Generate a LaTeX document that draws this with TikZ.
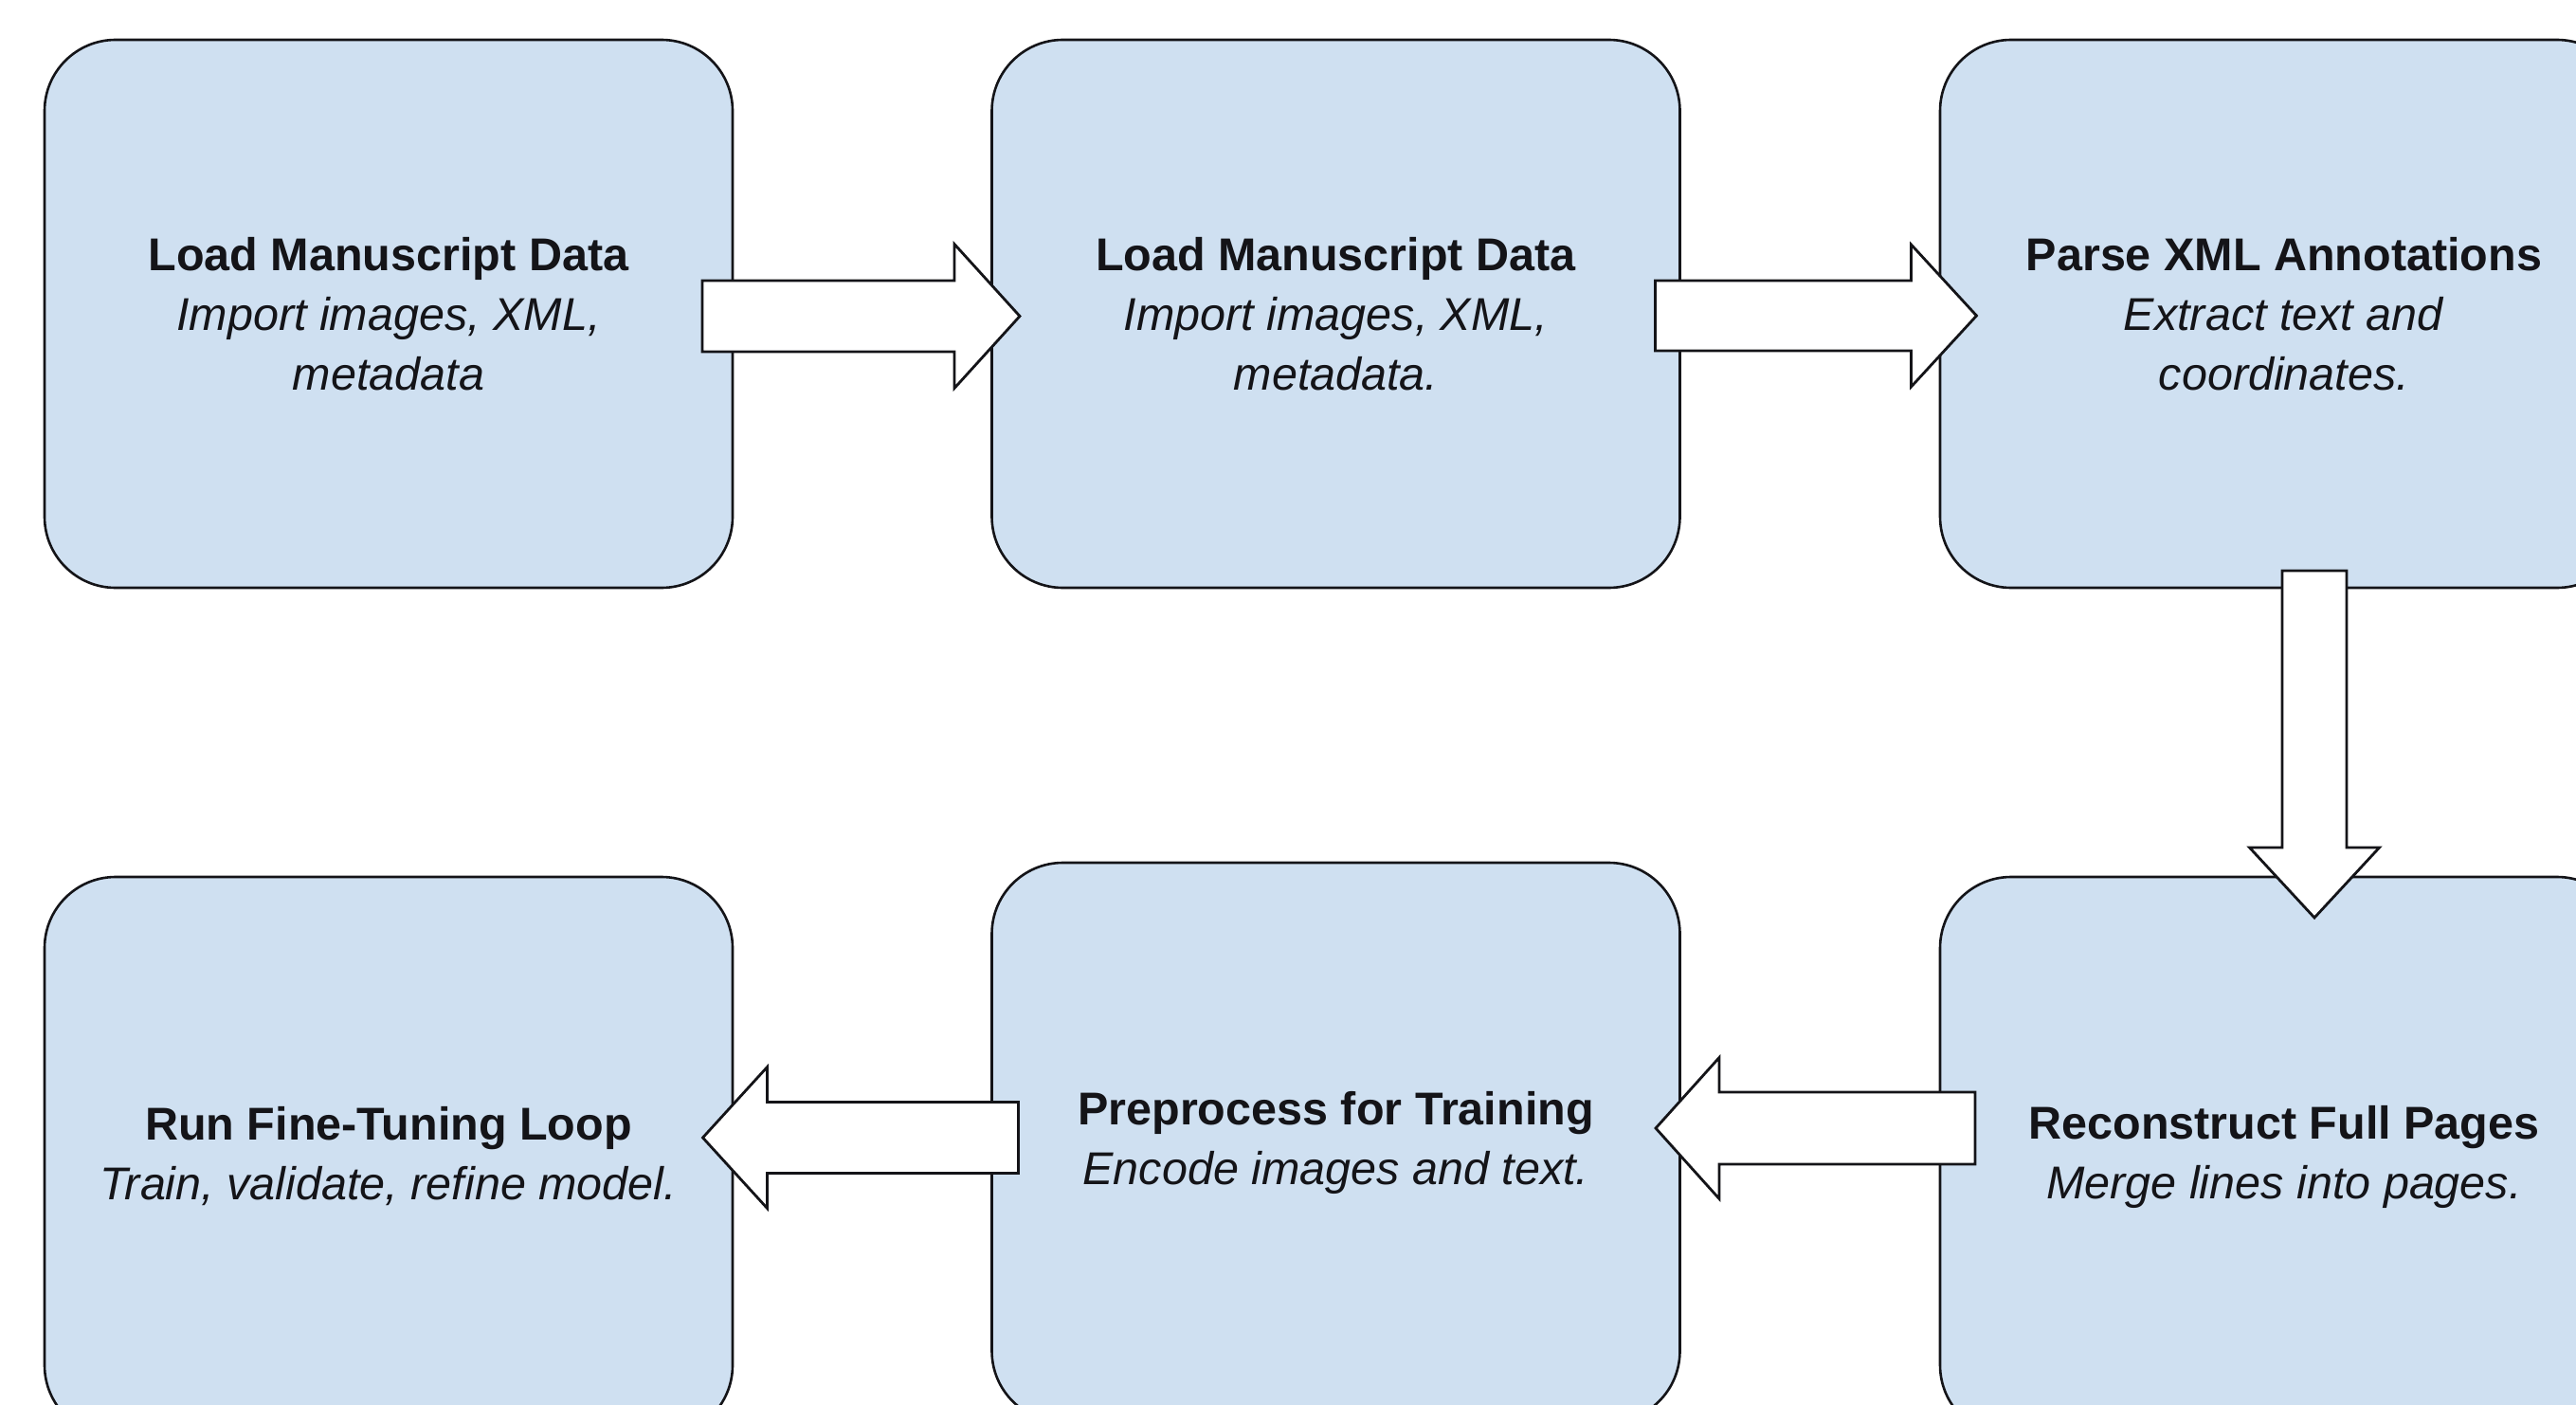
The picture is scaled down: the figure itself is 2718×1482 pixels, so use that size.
\documentclass[tikz,border=0pt]{standalone}
\usepackage{fontspec}
\setmainfont{Liberation Sans}
\usetikzlibrary{calc}
\definecolor{boxfill}{RGB}{207,224,241}
\definecolor{ink}{RGB}{20,20,24}

\begin{document}
\begin{tikzpicture}[x=1pt,y=-1pt,
  stage/.style={draw=ink, line width=2.6pt, fill=boxfill,
    rounded corners=75pt, minimum width=726pt, minimum height=578pt,
    inner sep=0pt, outer sep=0pt, align=center, text=ink,
    font=\fontsize{48.5}{63}\selectfont},
  lowstage/.style={stage, minimum height=590pt},
  blockarrow/.style={draw=ink, line width=2.8pt, fill=white, line join=miter}]

  % page frame
  \useasboundingbox (0,0) rectangle (2718,1482);
  \clip (0,0) rectangle (2718,1482);
  \fill[white] (0,0) rectangle (2718,1482);

  % pipeline stages, top row left to right
  \node[stage] (load1) at (410,331)
    {\textbf{Load Manuscript Data}\\\textit{Import images, XML,}\\\textit{metadata}};
  \node[stage] (load2) at (1409.5,331)
    {\textbf{Load Manuscript Data}\\\textit{Import images, XML,}\\\textit{metadata.}};
  \node[stage] (parse) at (2410,331)
    {\textbf{Parse XML Annotations}\\\textit{Extract text and}\\\textit{coordinates.}};

  % bottom row, right to left
  \node[lowstage] (rebuild) at (2410,1220)
    {\textbf{Reconstruct Full Pages}\\\textit{Merge lines into pages.}};
  \node[lowstage] (prep) at (1409.5,1205)
    {\textbf{Preprocess for Training}\\\textit{Encode images and text.}};
  \node[lowstage] (tune) at (410,1220)
    {\textbf{Run Fine-Tuning Loop}\\\textit{Train, validate, refine model.}};

  % block arrows between the stages
  \coordinate (t12) at ($(load1.east)+(-32,2.5)$);
  \draw[blockarrow] (t12) ++(0,-37.5) -- ++(266,0) -- ++(0,-38.5) -- ++(69,76)
    -- ++(-69,76) -- ++(0,-38.5) -- ++(-266,0) -- cycle;

  \coordinate (t23) at ($(load2.east)+(-26,2)$);
  \draw[blockarrow] (t23) ++(0,-37) -- ++(270,0) -- ++(0,-38) -- ++(69,75)
    -- ++(-69,75) -- ++(0,-38) -- ++(-270,0) -- cycle;

  \coordinate (t36) at ($(parse.south)+(32,-18)$);
  \draw[blockarrow] (t36) ++(-34,0) -- ++(0,292) -- ++(-34.5,0) -- ++(68.5,74)
    -- ++(68.5,-74) -- ++(-34.5,0) -- ++(0,-292) -- cycle;

  \coordinate (t65) at ($(rebuild.west)+(37,-30)$);
  \draw[blockarrow] (t65) ++(0,-38) -- ++(-270,0) -- ++(0,-36.5) -- ++(-67,74.5)
    -- ++(67,74.5) -- ++(0,-36.5) -- ++(270,0) -- cycle;

  \coordinate (t54) at ($(prep.west)+(28,-5)$);
  \draw[blockarrow] (t54) ++(0,-37.5) -- ++(-265,0) -- ++(0,-37) -- ++(-68,74.5)
    -- ++(68,74.5) -- ++(0,-37) -- ++(265,0) -- cycle;
\end{tikzpicture}
\end{document}
